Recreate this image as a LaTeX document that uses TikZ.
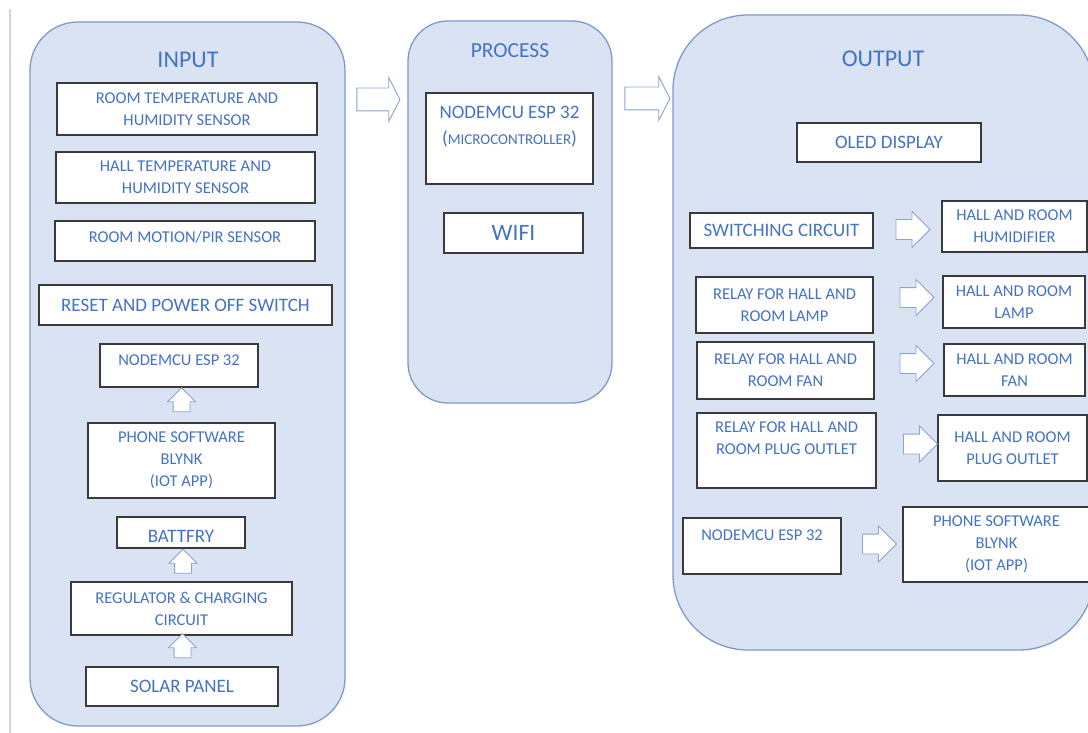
\documentclass[tikz,border=0pt]{standalone}
\usepackage{fontspec}
\setmainfont{Carlito}
\usepackage{tikz}
\usetikzlibrary{shapes.arrows}
\definecolor{stagefill}{HTML}{DAE3F3}
\definecolor{stageline}{HTML}{7F9AC9}
\definecolor{txtblue}{HTML}{4472C4}
\definecolor{boxline}{HTML}{3A3A3A}
\definecolor{arrowline}{HTML}{8AA3D2}
\newcommand{\bigtxt}{\fontsize{19}{26}\selectfont}
\newcommand{\smalltxt}{\fontsize{16.5}{22}\selectfont}
\newcommand{\titletxt}{\fontsize{24}{28}\selectfont}
\tikzset{
	stage/.style={draw=stageline,fill=stagefill,line width=1.3pt,rounded corners=#1},
	block/.style={draw=boxline,fill=white,line width=1.2pt,text=txtblue,align=center,inner sep=0pt,font=\smalltxt},
	bigblock/.style={block,font=\bigtxt},
	title/.style={text=txtblue,font=\titletxt},
	fat/.style={single arrow,draw=arrowline,fill=white,line width=0.9pt,inner xsep=0pt,inner ysep=9.5pt,
		single arrow tip angle=90,single arrow head extend=8pt,minimum height=34pt,minimum width=0pt},
	bigfat/.style={fat,inner ysep=11pt,single arrow tip angle=126,single arrow head extend=10.5pt,minimum height=43pt},
	upfat/.style={fat,rotate=90,inner ysep=8pt,single arrow head extend=5.5pt,minimum height=24pt}
}

\begin{document}
\begin{tikzpicture}[x=1pt,y=-1pt]
	\useasboundingbox (0,0) rectangle (1088,733);
	\clip (0,0) rectangle (1088,733);
	\draw [line width=2pt,color=black!17] (10,9) -- (10,733);

	% stages
	\node [stage=48pt,minimum width=315pt,minimum height=704pt] (input) at (187.5,374) {};
	\node [stage=40pt,minimum width=204pt,minimum height=382pt] (process) at (510,212) {};
	\node [stage=75pt,minimum width=421pt,minimum height=635pt] (output) at (883.5,332.5) {};
	\node [title] (inputtitle) at (188,60) {INPUT};
	\node [title,font=\fontsize{21.5}{26}\selectfont] (processtitle) at (510,51) {PROCESS};
	\node [title] (outputtitle) at (883,59) {OUTPUT};

	% input side
	\node [block,minimum width=260pt,minimum height=52pt] (roomsensor) at (187,109) {ROOM TEMPERATURE AND\\HUMIDITY SENSOR};
	\node [block,minimum width=259pt,minimum height=51pt] (hallsensor) at (185.5,177.5) {HALL TEMPERATURE AND\\HUMIDITY SENSOR};
	\node [block,minimum width=260pt,minimum height=40pt] (pir) at (185,241) {ROOM MOTION/PIR SENSOR\\[-14pt]\mbox{}};
	\node [bigblock,minimum width=293pt,minimum height=40pt] (reset) at (185.5,305) {RESET AND POWER OFF SWITCH};
	\node [block,minimum width=158pt,minimum height=43pt] (espin) at (179,365.5) {NODEMCU ESP 32\\[-12pt]\mbox{}};
	\node [block,minimum width=187pt,minimum height=75pt] (blynkin) at (181.5,460.5) {PHONE SOFTWARE\\BLYNK\\(IOT APP)};
	\node [bigblock,minimum width=128pt,minimum height=31pt,text height=20pt,text depth=0pt] (battery) at (181,532.5) {BATTFRY};
	\node [block,minimum width=221pt,minimum height=53pt] (regulator) at (181.5,608.5) {REGULATOR \& CHARGING\\CIRCUIT};
	\node [bigblock,minimum width=192pt,minimum height=39pt] (solar) at (182,686.5) {SOLAR PANEL};
	\node [upfat] (up1) at (181.5,404) {};
	\node [upfat] (up2) at (183,565.5) {};
	\node [upfat] (up3) at (182.5,650) {};

	% process
	\node [bigblock,minimum width=167pt,minimum height=91pt] (mcu) at (509.5,138.5) {NODEMCU ESP 32\\({\fontsize{15}{26}\selectfont MICROCONTROLLER})\\\mbox{}};
	\node [bigblock,minimum width=139pt,minimum height=40pt,font=\fontsize{23.5}{28}\selectfont] (wifi) at (513.5,233) {WIFI};
	\node [bigfat] (toprocess) at (375.5,99.5) {};
	\node [bigfat,minimum height=45pt] (tooutput) at (644.5,98.5) {};

	% output side
	\node [bigblock,minimum width=184pt,minimum height=39pt] (oled) at (889,142.5) {OLED DISPLAY};
	\node [bigblock,minimum width=183pt,minimum height=35pt] (switching) at (781.5,230.5) {SWITCHING CIRCUIT};
	\node [block,minimum width=145pt,minimum height=51pt] (humid) at (1014.5,226.5) {HALL AND ROOM\\HUMIDIFIER};
	\node [block,minimum width=177pt,minimum height=56pt] (relaylamp) at (784.5,305) {RELAY FOR HALL AND\\ROOM LAMP};
	\node [block,minimum width=142pt,minimum height=52pt] (lamp) at (1014,302) {HALL AND ROOM\\LAMP};
	\node [block,minimum width=177pt,minimum height=57pt] (relayfan) at (785.5,370.5) {RELAY FOR HALL AND\\ROOM FAN};
	\node [block,minimum width=141pt,minimum height=52pt] (fan) at (1014.5,370) {HALL AND ROOM\\FAN};
	\node [block,minimum width=179pt,minimum height=75pt] (relayplug) at (786.5,450.5) {RELAY FOR HALL AND\\ROOM PLUG OUTLET\\[3pt]\mbox{}};
	\node [block,minimum width=149pt,minimum height=66pt] (plug) at (1012.5,448) {HALL AND ROOM\\PLUG OUTLET};
	\node [block,minimum width=158pt,minimum height=56pt] (espout) at (762,546) {NODEMCU ESP 32\\\mbox{}};
	\node [block,minimum width=187pt,minimum height=75pt] (blynkout) at (996.5,544.5) {PHONE SOFTWARE\\BLYNK\\(IOT APP)};
	\node [fat] (tohumid) at (908,229.5) {};
	\node [fat] (tolamp) at (912,297.5) {};
	\node [fat] (tofan) at (912,363.5) {};
	\node [fat] (toplug) at (915.5,444) {};
	\node [fat] (toblynk) at (874.5,544) {};
\end{tikzpicture}
\end{document}
